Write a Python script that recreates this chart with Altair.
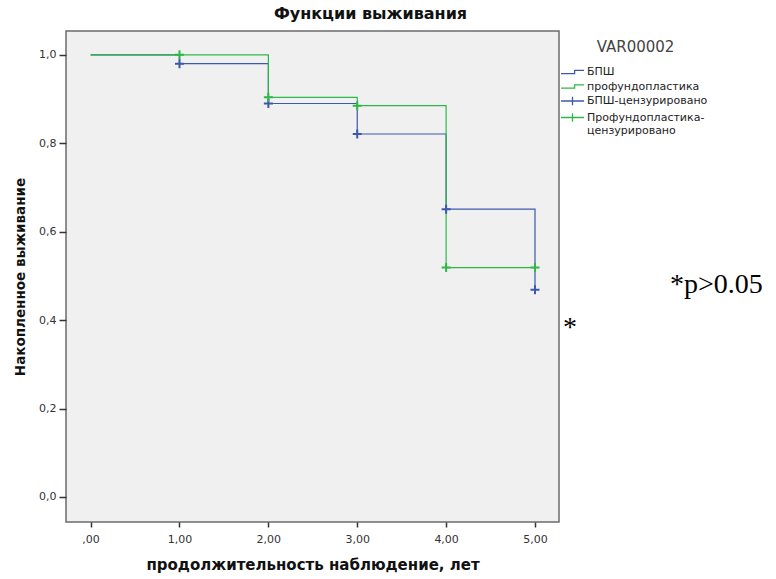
import altair as alt
import pandas as pd

# ---- data ----
times = [0, 1, 2, 3, 4, 5]
surv_bpsh = [1.0, 0.980, 0.890, 0.821, 0.651, 0.469]
surv_prof = [1.0, 1.0, 0.904, 0.885, 0.519, 0.519]
cens_times = [1, 2, 3, 4, 5]
cens_bpsh = [0.980, 0.890, 0.821, 0.651, 0.469]
cens_prof = [1.0, 0.904, 0.885, 0.519, 0.519]
groups = ["БПШ", "профундопластика", "БПШ-цензурировано", "Профундопластика-цензурировано"]
colors = ["#3e58ac", "#2eb848", "#3e58ac", "#2eb848"]
x_ticks = [0, 1, 2, 3, 4, 5]
y_ticks = [0.0, 0.2, 0.4, 0.6, 0.8, 1.0]

lines_df = pd.DataFrame(
    {"group": [groups[0]] * len(times) + [groups[1]] * len(times),
     "time": times + times,
     "surv": surv_bpsh + surv_prof}
)
cens_df = pd.DataFrame(
    {"group": [groups[2]] * len(cens_times) + [groups[3]] * len(cens_times),
     "time": cens_times + cens_times,
     "surv": cens_bpsh + cens_prof}
)
legend_df = pd.DataFrame({"group": groups, "time": [None] * 4, "surv": [None] * 4})

FONT = "DejaVu Sans"

x_enc = alt.X(
    "time:Q",
    scale=alt.Scale(domain=[-0.277, 5.27], nice=False, zero=False),
    axis=alt.Axis(
        values=x_ticks,
        labelExpr="datum.value == 0 ? ',00' : replace(format(datum.value, '.2f'), '.', ',')",
        title="продолжительность наблюдение, лет",
        domain=False, grid=False,
        tickSize=5, tickColor="#333333", tickWidth=1.5,
        labelFont=FONT, labelFontSize=11, labelColor="#333333", labelPadding=6,
        titleFont=FONT, titleFontSize=15, titleFontWeight="bold", titleColor="#111111",
        titlePadding=13,
    ),
)
y_enc = alt.Y(
    "surv:Q",
    scale=alt.Scale(domain=[-0.0566, 1.054], nice=False, zero=False),
    axis=alt.Axis(
        values=y_ticks,
        labelExpr="replace(format(datum.value, '.1f'), '.', ',')",
        title="Накопленное выживание",
        domain=False, grid=False,
        tickSize=7, tickColor="#333333", tickWidth=1.5,
        labelFont=FONT, labelFontSize=11, labelColor="#333333", labelPadding=3,
        titleFont=FONT, titleFontSize=13.5, titleFontWeight="bold", titleColor="#111111",
        titlePadding=11,
    ),
)

legend = alt.Legend(
    title="VAR00002", orient="none", legendX=498.5, legendY=9,
    titleFont=FONT, titleFontSize=15, titleFontWeight="normal", titleColor="#444444",
    titleAnchor="middle", titlePadding=9,
    labelFont=FONT, labelFontSize=11, labelColor="#222222", labelOffset=6.5,
    labelExpr="datum.label == 'Профундопластика-цензурировано' ? ['Профундопластика-', 'цензурировано'] : datum.label",
    symbolSize=196, symbolStrokeWidth=1.3, symbolFillColor="transparent",
    rowPadding=1.5, padding=0, labelLimit=200,
)

color_scale = alt.Scale(domain=groups, range=colors)
shape_scale = alt.Scale(
    domain=groups,
    range=["M-1.64,0.22H0.3V-0.22H1.64", "M-1.64,0.22H0.3V-0.22H1.64",
           "M-1.64,0H1.64M0,-0.6V0.6", "M-1.64,0H1.64M0,-0.6V0.6"],
)

lines = alt.Chart(lines_df).mark_line(interpolate="step-after", strokeWidth=1.2).encode(
    x=x_enc, y=y_enc,
    color=alt.Color("group:N", scale=color_scale, legend=legend),
    order="time:Q",
)

cens = alt.Chart(cens_df).mark_point(
    shape="M-1,0H1M0,-1V1", size=81, strokeWidth=2, filled=False, opacity=1
).encode(
    x=x_enc, y=y_enc,
    color=alt.Color("group:N", scale=color_scale, legend=legend),
)

leg = alt.Chart(legend_df).mark_point(filled=False, opacity=1, strokeWidth=1.3).encode(
    x=x_enc, y=y_enc,
    color=alt.Color("group:N", scale=color_scale, legend=legend),
    shape=alt.Shape("group:N", scale=shape_scale, legend=legend),
)

note = alt.Chart(pd.DataFrame({"t": ["*p>0.05"]})).mark_text(
    font="Liberation Serif", fontSize=28, align="left", baseline="alphabetic", color="#000000"
).encode(text="t:N", x=alt.value(604), y=alt.value(262))

star = alt.Chart(pd.DataFrame({"t": ["*"]})).mark_text(
    font="Liberation Serif", fontSize=28, align="center", baseline="alphabetic", color="#000000"
).encode(text="t:N", x=alt.value(504), y=alt.value(305))

chart = alt.layer(lines, cens, leg, note, star).properties(
    width=493, height=491,
    title=alt.TitleParams("Функции выживания", font=FONT, fontSize=16, fontWeight="bold",
                          anchor="middle", dx=58, offset=9, color="#111111"),
    autosize=alt.AutoSizeParams(type="none"),
    padding={"left": 66, "top": 31, "right": 217, "bottom": 57},
    background="#ffffff",
).configure_view(
    fill="#f0f0f0", stroke="#6b6b6b", strokeWidth=1.5
)

chart.save("out.html", embed_options={"renderer": "svg", "actions": False})
